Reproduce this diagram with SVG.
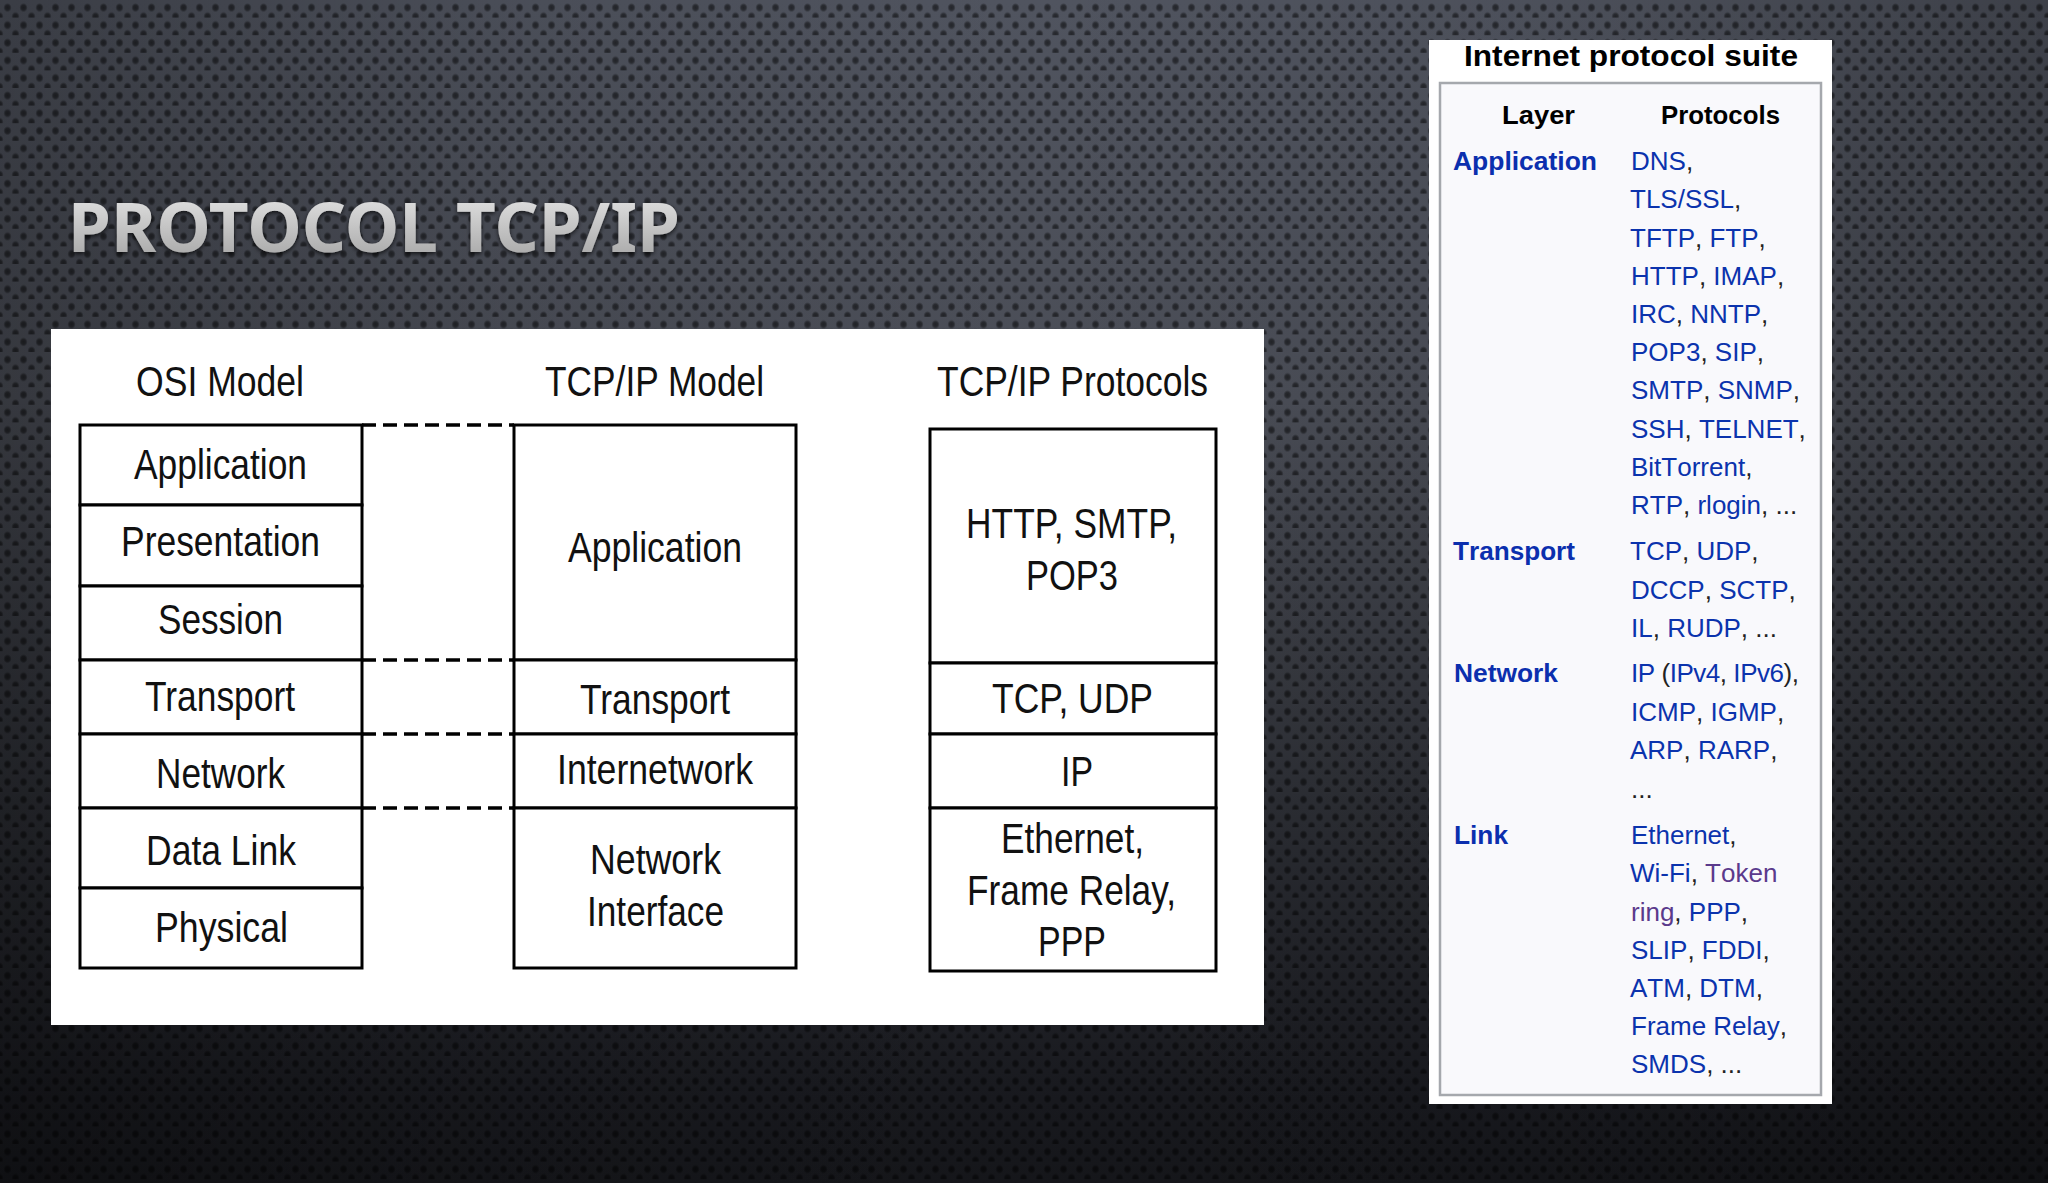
<svg xmlns="http://www.w3.org/2000/svg" width="2048" height="1183" viewBox="0 0 2048 1183">
<defs>
<radialGradient id="dot"><stop offset="0" stop-color="#000" stop-opacity=".55"/><stop offset=".55" stop-color="#000" stop-opacity=".45"/><stop offset="1" stop-color="#000" stop-opacity="0"/></radialGradient>
<pattern id="dots" width="16" height="17.6" patternUnits="userSpaceOnUse"><ellipse cx="7.5" cy="7.6" rx="4.2" ry="4.6" fill="url(#dot)"/><ellipse cx="15.5" cy="16.4" rx="4.2" ry="4.6" fill="url(#dot)"/><ellipse cx="-.5" cy="16.4" rx="4.2" ry="4.6" fill="url(#dot)"/></pattern>
<linearGradient id="bg" x1="0" y1="0" x2="0" y2="1"><stop offset="0" stop-color="#50545f"/><stop offset=".34" stop-color="#4a4d56"/><stop offset=".68" stop-color="#2b2d33"/><stop offset=".93" stop-color="#18191e"/><stop offset="1" stop-color="#15161a"/></linearGradient>
<linearGradient id="side" x1="0" y1="0" x2="1" y2="0"><stop offset="0" stop-color="#000" stop-opacity=".28"/><stop offset=".25" stop-color="#000" stop-opacity=".08"/><stop offset=".5" stop-color="#000" stop-opacity="0"/><stop offset=".75" stop-color="#000" stop-opacity=".05"/><stop offset="1" stop-color="#000" stop-opacity=".24"/></linearGradient>
<linearGradient id="title" x1="0" y1="0" x2="0" y2="1"><stop offset="0" stop-color="#efefef"/><stop offset="1" stop-color="#9c9c9c"/></linearGradient>
<filter id="sh" x="-5%" y="-20%" width="110%" height="140%"><feDropShadow dx="0" dy="2" stdDeviation="2" flood-color="#000" flood-opacity=".7"/></filter>
</defs>
<style>
.d{font-family:"Liberation Sans",Arial,sans-serif;font-size:42px;fill:#111}
.box{fill:#fff;stroke:#000;stroke-width:3}
.dash{stroke:#000;stroke-width:3.5;stroke-dasharray:14 7;fill:none}
.t{font-family:"Liberation Sans",Arial,sans-serif;font-size:26px;fill:#0b33ad;font-kerning:none}
.c{fill:#222}
.v{fill:#5b3a8c}
.b{font-family:"Liberation Sans",Arial,sans-serif;font-size:26px;font-weight:700;fill:#0b2fae;font-kerning:none}
.h{font-family:"Liberation Sans",Arial,sans-serif;font-size:26px;font-weight:700;fill:#000;font-kerning:none}
</style>
<rect width="2048" height="1183" fill="url(#bg)"/>
<rect width="2048" height="1183" fill="url(#side)"/>
<rect width="2048" height="1183" fill="url(#dots)"/>
<text id="title-text" x="68" y="252" font-family="'Noto Sans','Open Sans',sans-serif" font-weight="700" font-size="68" fill="url(#title)" filter="url(#sh)" textLength="612" lengthAdjust="spacingAndGlyphs">PROTOCOL TCP/IP</text>
<rect id="panel" x="51" y="329" width="1213" height="696" fill="#fff"/>
<g id="connectors"><path class="dash" d="M362 425H514M362 660H514M362 734H514M362 808H514"/></g>
<g id="osi-header"><text class="d" x="136" y="396" textLength="168" lengthAdjust="spacingAndGlyphs">OSI Model</text></g>
<g id="tcp-header"><text class="d" x="545" y="396" textLength="219" lengthAdjust="spacingAndGlyphs">TCP/IP Model</text></g>
<g id="proto-header"><text class="d" x="937" y="396" textLength="271" lengthAdjust="spacingAndGlyphs">TCP/IP Protocols</text></g>
<g id="osi-application"><rect class="box" x="80" y="425" width="282" height="80"/><text class="d" x="134" y="479" textLength="173" lengthAdjust="spacingAndGlyphs">Application</text></g>
<g id="osi-presentation"><rect class="box" x="80" y="505" width="282" height="81"/><text class="d" x="121" y="556" textLength="199" lengthAdjust="spacingAndGlyphs">Presentation</text></g>
<g id="osi-session"><rect class="box" x="80" y="586" width="282" height="74"/><text class="d" x="158" y="634" textLength="125" lengthAdjust="spacingAndGlyphs">Session</text></g>
<g id="osi-transport"><rect class="box" x="80" y="660" width="282" height="74"/><text class="d" x="145" y="711" textLength="150" lengthAdjust="spacingAndGlyphs">Transport</text></g>
<g id="osi-network"><rect class="box" x="80" y="734" width="282" height="74"/><text class="d" x="156" y="788" textLength="129" lengthAdjust="spacingAndGlyphs">Network</text></g>
<g id="osi-datalink"><rect class="box" x="80" y="808" width="282" height="80"/><text class="d" x="146" y="865" textLength="150" lengthAdjust="spacingAndGlyphs">Data Link</text></g>
<g id="osi-physical"><rect class="box" x="80" y="888" width="282" height="80"/><text class="d" x="155" y="942" textLength="133" lengthAdjust="spacingAndGlyphs">Physical</text></g>
<g id="tcp-application"><rect class="box" x="514" y="425" width="282" height="235"/><text class="d" x="568" y="562" textLength="174" lengthAdjust="spacingAndGlyphs">Application</text></g>
<g id="tcp-transport"><rect class="box" x="514" y="660" width="282" height="74"/><text class="d" x="580" y="714" textLength="150" lengthAdjust="spacingAndGlyphs">Transport</text></g>
<g id="tcp-internetwork"><rect class="box" x="514" y="734" width="282" height="74"/><text class="d" x="557" y="784" textLength="196" lengthAdjust="spacingAndGlyphs">Internetwork</text></g>
<g id="tcp-interface"><rect class="box" x="514" y="808" width="282" height="160"/><text class="d" x="590" y="874" textLength="131" lengthAdjust="spacingAndGlyphs">Network</text><text class="d" x="587" y="926" textLength="137" lengthAdjust="spacingAndGlyphs">Interface</text></g>
<g id="proto-http"><rect class="box" x="930" y="429" width="286" height="234"/><text class="d" x="966" y="538" textLength="211" lengthAdjust="spacingAndGlyphs">HTTP, SMTP,</text><text class="d" x="1026" y="590" textLength="92" lengthAdjust="spacingAndGlyphs">POP3</text></g>
<g id="proto-tcp"><rect class="box" x="930" y="663" width="286" height="71"/><text class="d" x="992" y="713" textLength="161" lengthAdjust="spacingAndGlyphs">TCP, UDP</text></g>
<g id="proto-ip"><rect class="box" x="930" y="734" width="286" height="74"/><text class="d" x="1061" y="786" textLength="32" lengthAdjust="spacingAndGlyphs">IP</text></g>
<g id="proto-ethernet"><rect class="box" x="930" y="808" width="286" height="163"/><text class="d" x="1001" y="853" textLength="143" lengthAdjust="spacingAndGlyphs">Ethernet,</text><text class="d" x="967" y="905" textLength="209" lengthAdjust="spacingAndGlyphs">Frame Relay,</text><text class="d" x="1038" y="956" textLength="68" lengthAdjust="spacingAndGlyphs">PPP</text></g>
<g id="infobox">
<rect x="1429" y="40" width="403" height="1064" fill="#fff"/>
<rect x="1440" y="83" width="381" height="1012" fill="#f9f9fc" stroke="#a5a8ad" stroke-width="2.5"/>
<text x="1464" y="66" font-family="'Liberation Sans',Arial,sans-serif" font-size="30" font-weight="700" fill="#000" textLength="334" lengthAdjust="spacingAndGlyphs">Internet protocol suite</text>
<text class="h" x="1502" y="124" textLength="73" lengthAdjust="spacingAndGlyphs">Layer</text>
<text class="h" x="1661" y="124" textLength="119" lengthAdjust="spacingAndGlyphs">Protocols</text>
<text class="b" x="1453" y="170" textLength="144" lengthAdjust="spacingAndGlyphs">Application</text>
<text class="b" x="1453" y="560" textLength="122" lengthAdjust="spacingAndGlyphs">Transport</text>
<text class="b" x="1454" y="682" textLength="104" lengthAdjust="spacingAndGlyphs">Network</text>
<text class="b" x="1454" y="844" textLength="54" lengthAdjust="spacingAndGlyphs">Link</text>
<text class="t" x="1631" y="170">DNS<tspan class="c">,</tspan></text>
<text class="t" x="1630" y="208">TLS/SSL<tspan class="c">,</tspan></text>
<text class="t" x="1630" y="247">TFTP<tspan class="c">, </tspan>FTP<tspan class="c">,</tspan></text>
<text class="t" x="1631" y="285">HTTP<tspan class="c">, </tspan>IMAP<tspan class="c">,</tspan></text>
<text class="t" x="1631" y="323">IRC<tspan class="c">, </tspan>NNTP<tspan class="c">,</tspan></text>
<text class="t" x="1631" y="361">POP3<tspan class="c">, </tspan>SIP<tspan class="c">,</tspan></text>
<text class="t" x="1631" y="399">SMTP<tspan class="c">, </tspan>SNMP<tspan class="c">,</tspan></text>
<text class="t" x="1631" y="438">SSH<tspan class="c">, </tspan>TELNET<tspan class="c">,</tspan></text>
<text class="t" x="1631" y="476">BitTorrent<tspan class="c">,</tspan></text>
<text class="t" x="1631" y="514">RTP<tspan class="c">, </tspan>rlogin<tspan class="c">, ...</tspan></text>
<text class="t" x="1630" y="560">TCP<tspan class="c">, </tspan>UDP<tspan class="c">,</tspan></text>
<text class="t" x="1631" y="599">DCCP<tspan class="c">, </tspan>SCTP<tspan class="c">,</tspan></text>
<text class="t" x="1631" y="637">IL<tspan class="c">, </tspan>RUDP<tspan class="c">, ...</tspan></text>
<text class="t" x="1631" y="682" textLength="168">IP <tspan class="c">(</tspan>IPv4<tspan class="c">, </tspan>IPv6<tspan class="c">),</tspan></text>
<text class="t" x="1631" y="721">ICMP<tspan class="c">, </tspan>IGMP<tspan class="c">,</tspan></text>
<text class="t" x="1630" y="759">ARP<tspan class="c">, </tspan>RARP<tspan class="c">,</tspan></text>
<text class="t c" x="1631" y="798">...</text>
<text class="t" x="1631" y="844">Ethernet<tspan class="c">,</tspan></text>
<text class="t" x="1630" y="882">Wi-Fi<tspan class="c">, </tspan><tspan class="v">Token</tspan></text>
<text class="t" x="1631" y="921"><tspan class="v">ring</tspan><tspan class="c">, </tspan>PPP<tspan class="c">,</tspan></text>
<text class="t" x="1631" y="959">SLIP<tspan class="c">, </tspan>FDDI<tspan class="c">,</tspan></text>
<text class="t" x="1630" y="997">ATM<tspan class="c">, </tspan>DTM<tspan class="c">,</tspan></text>
<text class="t" x="1631" y="1035">Frame Relay<tspan class="c">,</tspan></text>
<text class="t" x="1631" y="1073">SMDS<tspan class="c">, ...</tspan></text>
</g>
</svg>
